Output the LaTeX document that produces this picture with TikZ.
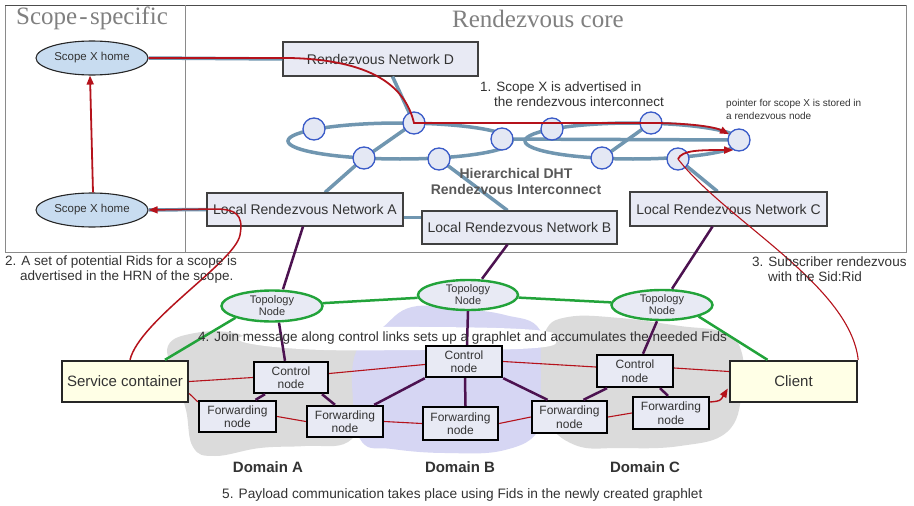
\documentclass[tikz,border=0pt]{standalone}
\usepackage{fontspec}
\setmainfont{Liberation Sans}
\newfontfamily\headfont{Liberation Serif}
\usetikzlibrary{shapes.geometric,arrows.meta,calc}
\definecolor{dhtc}{HTML}{7096B0}
\definecolor{circb}{HTML}{3A5BC8}
\definecolor{circf}{HTML}{E4E8F4}
\definecolor{redc}{HTML}{B5121B}
\definecolor{purp}{HTML}{4C1250}
\definecolor{grn}{HTML}{22A33A}
\definecolor{boxf}{HTML}{E8EAF4}
\definecolor{yelf}{HTML}{FFFFE6}
\definecolor{shf}{HTML}{C8DCF0}
\definecolor{graydom}{HTML}{DBDBDB}
\definecolor{lavdom}{HTML}{D6D6F3}
\definecolor{txtg}{HTML}{333333}
\definecolor{framec}{HTML}{8A8A8A}
\begin{document}
\begin{tikzpicture}[x=1pt,y=-1pt,
  rnbox/.style={draw=black!75, line width=1.1pt, fill=boxf, minimum height=34pt, inner sep=2pt, font=\fontsize{14}{16}\selectfont, text=txtg},
  ctlbox/.style={draw=black, line width=2.4pt, fill=boxf, align=center, font=\fontsize{12}{13.5}\selectfont, inner sep=1pt, text=txtg},
  bigbox/.style={draw=black!85, line width=2.4pt, fill=yelf, font=\fontsize{15}{17}\selectfont, minimum width=126pt, minimum height=41pt, text=txtg},
  topo/.style={ellipse, draw=grn, line width=2.4pt, fill=boxf, align=center, font=\fontsize{11}{12}\selectfont, inner sep=0pt, minimum width=101pt, minimum height=31pt, text=txtg},
  home/.style={ellipse, draw=black!85, line width=1.1pt, fill=shf, minimum width=112pt, minimum height=34pt, font=\fontsize{11.5}{13}\selectfont, inner sep=0pt, text=txtg},
  dhtnode/.style={circle, draw=circb, line width=1.3pt, fill=circf, minimum size=22pt, inner sep=0pt},
  dhtline/.style={draw=dhtc, line width=3.5pt},
  purl/.style={draw=purp, line width=2.5pt},
  grnl/.style={draw=grn, line width=2.5pt},
  redthick/.style={draw=redc, line width=1.8pt},
  redthin/.style={draw=redc, line width=1.1pt},
  arr/.style={-{Triangle[length=9pt,width=7pt]}},
  note/.style={font=\fontsize{13.5}{15}\selectfont, text=txtg, align=left, inner sep=0pt},
  dom/.style={font=\bfseries\fontsize{15}{17}\selectfont, text=txtg, inner sep=0pt},
  head/.style={font=\headfont\fontsize{25}{28}\selectfont, text=black!50, inner sep=0pt}
]
\useasboundingbox (0,0) rectangle (914,506);
\fill[white] (0,0) rectangle (914,506);

% frame
\draw[framec, line width=1pt] (5,5) rectangle (906,252);
\draw[black!70, line width=1pt] (5,5) -- (906,5);
\draw[framec, line width=1pt] (185,5) -- (185,252);
\node[head, anchor=west] (h1) at (16,18) {Scope{\kern2pt}-{\kern2.5pt}specific};
\node[head, anchor=west] (h2) at (452,19) {Rendezvous core};

% domain blobs
\fill[graydom] plot[smooth cycle, tension=0.7] coordinates {(168,346) (195,333) (235,333) (262,345) (310,346) (352,344) (366,365) (362,410) (348,442) (305,446) (260,448) (215,456) (193,447) (186,410) (176,378)};
\fill[lavdom] plot[smooth cycle, tension=0.7] coordinates {(356,352) (382,328) (412,307) (460,309) (505,315) (540,330) (546,380) (540,428) (505,450) (445,453) (392,449) (362,442) (353,400)};
\fill[graydom] plot[smooth cycle, tension=0.7] coordinates {(545,332) (568,317) (620,318) (680,326) (722,332) (741,350) (742,392) (727,432) (680,446) (620,448) (575,445) (546,418) (541,372)};
\fill[white] plot[smooth cycle, tension=0.7] coordinates {(238,339) (300,329) (420,327) (535,330) (556,339) (535,348) (420,350) (300,349)};

% scope-specific ellipses
\node[home] (sh1) at (92,58) {Scope X home};
\node[home] (sh2) at (92,210) {Scope X home};

% rendezvous boxes
\node[rnbox, minimum width=195pt] (rnD) at (380.5,59) {Rendezvous Network D};
\node[rnbox, minimum width=196pt, minimum height=33pt] (lrnA) at (305,209.5) {Local Rendezvous Network A};
\node[rnbox, minimum width=195pt, minimum height=33pt] (lrnB) at (519.5,227.5) {Local Rendezvous Network B};
\node[rnbox, minimum width=197pt] (lrnC) at (728.5,209) {Local Rendezvous Network C};

% DHT circles (positions)
\coordinate (p1) at (314,129);
\coordinate (p2) at (414,123);
\coordinate (p3) at (364,158);
\coordinate (p4) at (439,159);
\coordinate (p5) at (502,139);
\coordinate (p6) at (552,129);
\coordinate (p7) at (651,123);
\coordinate (p8) at (602,158);
\coordinate (p9) at (678,159);
\coordinate (p10) at (739,140);

% DHT rings and links
\draw[dhtline] (400,141) ellipse[x radius=112pt, y radius=18pt];
\draw[dhtline] (633,141) ellipse[x radius=108pt, y radius=18pt];
\draw[dhtline] (p5) -- (p10);
\draw[dhtline] (sh1.east) -- (rnD.west);
\draw[dhtline] (sh2.east) -- (lrnA.west);
\draw[dhtline] ([xshift=12pt]rnD.south) -- (p2);
\draw[dhtline] (p2) -- (p3);
\draw[dhtline] (p3) -- ([xshift=20pt]lrnA.north);
\draw[dhtline] (p4) -- ([xshift=-12pt]lrnB.north);
\draw[dhtline] (p8) -- (p7);
\draw[dhtline] (p9) -- ([xshift=-11pt]lrnC.north);
\draw[dhtline] ([yshift=-8pt]lrnA.east) -- ([yshift=-8pt]lrnA.east -| lrnB.west);

\foreach \i in {1,...,10} { \node[dhtnode] (c\i) at (p\i) {}; }

% redraw boxes over the links
\node[rnbox, minimum width=196pt, minimum height=33pt] at (lrnA) {Local Rendezvous Network A};
\node[rnbox, minimum width=195pt, minimum height=33pt] at (lrnB) {Local Rendezvous Network B};
\node[rnbox, minimum width=197pt] at (lrnC) {Local Rendezvous Network C};

\node[note, anchor=north west] (n1) at (480,82) {1. Scope X is advertised in\\\hspace*{14pt}the rendezvous interconnect};
\node[font=\fontsize{10}{13}\selectfont, text=txtg, align=left, inner sep=0pt, anchor=north west] (np) at (726,99) {pointer for scope X is stored in\\a rendezvous node};
\node[font=\bfseries\fontsize{14}{16}\selectfont, text=black!65, align=center, inner sep=0pt] (hdht) at (516,181) {Hierarchical DHT\\Rendezvous Interconnect};

% topology / control / forwarding
\node[topo] (tA) at (272,306) {Topology\\Node};
\node[topo, minimum width=100pt, minimum height=30pt] (tB) at (468,295) {Topology\\Node};
\node[topo, minimum height=30pt] (tC) at (662,305) {Topology\\Node};

\node[ctlbox, minimum width=74pt, minimum height=31pt] (cA) at (291,377.5) {Control\\node};
\node[ctlbox, minimum width=76pt, minimum height=31pt] (cB) at (464,361.5) {Control\\node};
\node[ctlbox, minimum width=76pt, minimum height=32pt] (cC) at (635,371) {Control\\node};
\node[ctlbox, minimum width=77pt, minimum height=31pt] (fA1) at (237.5,416.5) {Forwarding\\node};
\node[ctlbox, minimum width=76pt, minimum height=31pt] (fA2) at (345,421.5) {Forwarding\\node};
\node[ctlbox, minimum width=75pt, minimum height=33pt] (fB) at (460.5,423.5) {Forwarding\\node};
\node[ctlbox, minimum width=75pt, minimum height=32pt] (fC1) at (569.5,417) {Forwarding\\node};
\node[ctlbox, minimum width=76pt, minimum height=32pt] (fC2) at (671,413) {Forwarding\\node};
\node[bigbox] (sc) at (125,381.5) {Service container};
\node[bigbox, minimum width=127pt] (cl) at (793.5,381.5) {Client};

% purple links
\draw[purl] ([xshift=-2pt]lrnA.south) -- ([xshift=11pt]tA.north);
\draw[purl] ([xshift=7pt]tA.south) -- ([xshift=-6pt]cA.north);
\draw[purl] ([xshift=-26pt]cA.south) -- ([xshift=18pt]fA1.north);
\draw[purl] ([xshift=31pt]cA.south) -- ([xshift=-10pt]fA2.north);
\draw[purl] (cB.south west) -- ([xshift=-10pt]fA2.north east);
\draw[purl] ([xshift=-12pt]lrnB.south) -- ([xshift=14pt]tB.north);
\draw[purl] (tB.south) -- ([xshift=3pt]cB.north);
\draw[purl] ([xshift=1pt]cB.south) -- ([xshift=5pt]fB.north);
\draw[purl] (cB.south east) -- ([xshift=-22pt]fC1.north);
\draw[purl] ([xshift=-16pt]lrnC.south) -- ([xshift=10pt]tC.north);
\draw[purl] ([xshift=-5pt]tC.south) -- ([xshift=8pt]cC.north);
\draw[purl] ([xshift=-28pt]cC.south) -- ([xshift=14pt]fC1.north);
\draw[purl] ([xshift=25pt]cC.south) -- ([xshift=-3pt]fC2.north);

% green links
\draw[grnl] (tA) -- (tB);
\draw[grnl] (tB) -- (tC);
\draw[grnl] (tA.south west) -- ([xshift=40pt]sc.north);
\draw[grnl] (tC.south east) -- ([xshift=-26pt]cl.north);

% thin red data links
\draw[redthin] (sc.east) -- (cA.west);
\draw[redthin] ([yshift=-12pt]sc.east) -- ([yshift=-2pt]fA1.north west);
\draw[redthin] (fA1.east) -- (fA2.west);
\draw[redthin] ([yshift=4pt]cA.east) -- ([yshift=-3pt]cB.west);
\draw[redthin] (fA2.east) -- (fB.west);
\draw[redthin] (fB.east) -- (fC1.west);
\draw[redthin] (cB.east) -- ([yshift=4pt]cC.west);
\draw[redthin] (fC1.east) -- (fC2.west);
\draw[redthin] ([yshift=3pt]cC.east) -- ([yshift=10pt]cl.west);
\draw[redthin, line width=1.4pt, arr] ([yshift=11pt]fC2.east) .. controls ([xshift=10pt,yshift=12pt]fC2.east) .. ([xshift=-1pt,yshift=-7pt]cl.west);

% thick red signalling paths
\draw[redthick, arr] (sh1.east) -- (290,58) .. controls (370,60) and (405,85) .. (c2.center) -- (650,123) .. controls (690,123) and (715,127) .. (c10.150);
\draw[redthick, arr] (c9.center) .. controls (682,150) and (700,150) .. (c10.240);
\draw[redthin] (c9.center) .. controls (725,220) and (850,285) .. (cl.north east);
\draw[redthick, line width=1.5pt, arr] ([xshift=5pt]sc.north) .. controls (140,320) and (235,262) .. (240,235) .. controls (244,214) and (235,209) .. (215,209) -- (sh2.east);
\draw[redthick, arr] ([xshift=1pt]sh2.north) -- ([xshift=-2pt]sh1.south);

% notes
\node[note, anchor=north west] (n2) at (5,256) {2. A set of potential Rids for a scope is\\\hspace*{15pt}advertised in the HRN of the scope.};
\node[note, anchor=north west] (n3) at (752,257) {3. Subscriber rendezvous\\\hspace*{16pt}with the Sid:Rid};
\node[note, anchor=west] (n4) at (198,338) {4. Join message along control links sets up a graphlet and accumulates the needed Fids};
\node[note, font=\fontsize{13.7}{15}\selectfont, anchor=west] (n5) at (222,495) {5. Payload communication takes place using Fids in the newly created graphlet};
\node[dom] (dA) at (268,467) {Domain A};
\node[dom] (dB) at (460,467) {Domain B};
\node[dom] (dC) at (645,467) {Domain C};
\end{tikzpicture}
\end{document}
